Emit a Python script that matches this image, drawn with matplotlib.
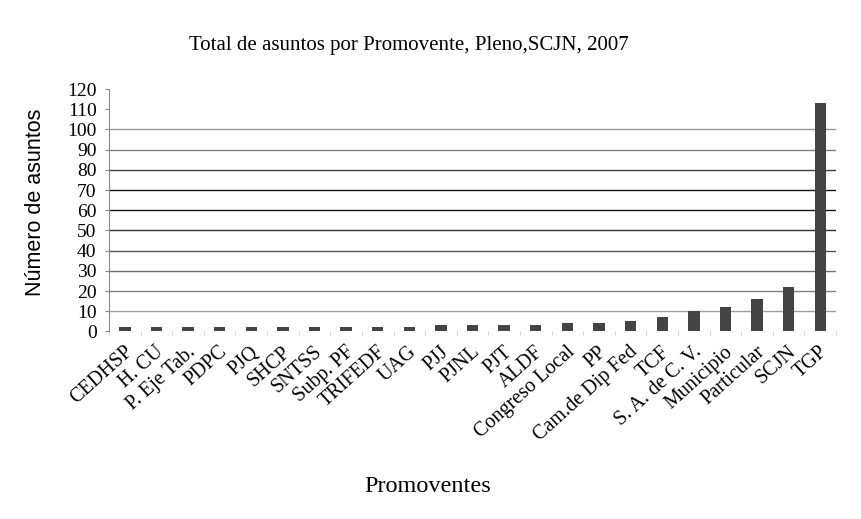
import matplotlib.pyplot as plt
import matplotlib.transforms as mtransforms
import numpy as np

promoventes = ["CEDHSP", "H. CU", "P. Eje Tab.", "PDPC", "PJQ", "SHCP", "SNTSS",
               "Subp. PF", "TRIFEDF", "UAG", "PJJ", "PJNL", "PJT", "ALDF",
               "Congreso Local", "PP", "Cam.de Dip Fed", "TCF", "S. A. de C. V.",
               "Municipio", "Particular", "SCJN", "TGP"]
asuntos = [2, 2, 2, 2, 2, 2, 2, 2, 2, 2, 3, 3, 3, 3, 4, 4, 5, 7, 10, 12, 16, 22, 113]

y_ticks = list(range(0, 121, 10))
grid_vals = list(range(10, 101, 10))
grid_cols = ["#a0a0a0", "#808080", "#707070", "#555555", "#303030",
             "#151515", "#151515", "#404040", "#808080", "#999999"]

serif = ["Liberation Serif", "DejaVu Serif"]

fig = plt.figure(figsize=(8.62, 5.19), dpi=100)
ax = fig.add_axes([0.1265, 0.3613, 0.8434, 0.4672])

x = np.arange(len(promoventes))
for g, c in zip(grid_vals, grid_cols):
    ax.axhline(g, color=c, lw=1.0, zorder=0)
ax.bar(x, asuntos, width=0.36, color="#444444", zorder=2)

ax.set_xlim(-0.5, len(promoventes) - 0.5)
ax.set_ylim(0, 120)
ax.set_yticks(y_ticks)
ax.set_yticklabels([str(v) for v in y_ticks], family=serif, fontsize=14)
ax.tick_params(axis="y", length=3, color="#888888", pad=6)

ax.set_xticks(x)
ax.set_xticklabels(promoventes, rotation=42, ha="right", va="center",
                   rotation_mode="anchor", family=serif, fontsize=14.5)
ax.tick_params(axis="x", which="major", length=0, pad=13)
shift = mtransforms.ScaledTranslation(5 / 100, 0, fig.dpi_scale_trans)
for lbl in ax.get_xticklabels():
    lbl.set_transform(lbl.get_transform() + shift)
ax.set_xticks(np.arange(-0.5, len(promoventes), 1), minor=True)
ax.tick_params(axis="x", which="minor", length=3, color="#cccccc")

for s in ["top", "right", "bottom"]:
    ax.spines[s].set_visible(False)
ax.spines["left"].set_color("#888888")

fig.text(0.4745, 0.913, "Total de asuntos por Promovente, Pleno,SCJN, 2007",
         ha="center", va="center", family=serif, fontsize=15)
fig.text(0.041, 1 - 202 / 519, "Número de asuntos", rotation=90,
         ha="center", va="center", family=["Liberation Sans", "DejaVu Sans"], fontsize=15.5)
fig.text(428 / 862, 1 - 487 / 519, "Promoventes", ha="center", va="center",
         family=serif, fontsize=17.5)

plt.savefig("out.png", dpi=100)
